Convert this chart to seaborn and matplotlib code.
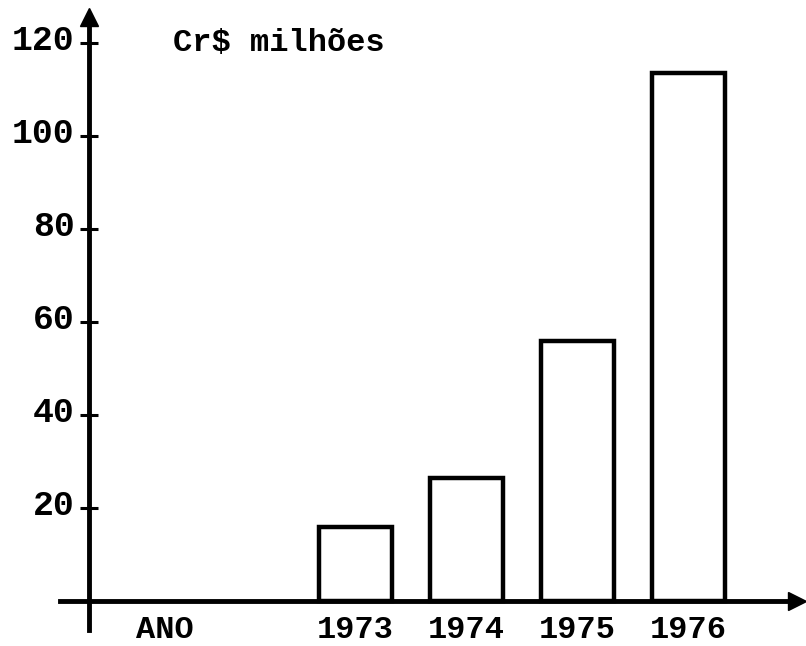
import matplotlib
matplotlib.use("Agg")
import matplotlib.pyplot as plt
import matplotlib.transforms as mtransforms
import seaborn as sns

# Data
years = ["1973", "1974", "1975", "1976"]
values = [16, 26.5, 56, 113.5]
yticks = [20, 40, 60, 80, 100, 120]
ytick_labels = ["20", "40", "60", "80", "100", "120"]
unit_label = "Cr$ milhões"
xaxis_label = "ANO"

sns.set_style("white")
plt.rcParams["font.family"] = ["Liberation Mono", "DejaVu Sans Mono"]
plt.rcParams["font.weight"] = "bold"
plt.rcParams["text.color"] = "black"
plt.rcParams["xtick.color"] = "black"
plt.rcParams["ytick.color"] = "black"
plt.rcParams["axes.edgecolor"] = "black"

fig = plt.figure(figsize=(8.06, 6.46), dpi=100)
ax = fig.add_axes([0, 0, 1, 1])

sns.barplot(x=years, y=values, color="white", edgecolor="black",
            linewidth=3.2, width=0.65, saturation=1, ax=ax)

ax.set_xlim(-3.203, 4.058)
ax.set_ylim(-9.68, 129.25)
ax.set_facecolor("white")

yaxis_x = -2.40
for s in ["top", "right"]:
    ax.spines[s].set_visible(False)
ax.spines["left"].set_position(("data", yaxis_x))
ax.spines["left"].set_bounds(-6.2, 124)
ax.spines["left"].set_linewidth(3.5)
ax.spines["left"].set_color("black")
ax.spines["bottom"].set_position(("data", 0))
ax.spines["bottom"].set_bounds(-2.66, 3.95)
ax.spines["bottom"].set_linewidth(3.5)
ax.spines["bottom"].set_color("black")

# arrowheads
ax.plot([yaxis_x], [125.5], marker="^", color="black", markersize=13, clip_on=False)
ax.plot([3.98], [0], marker=">", color="black", markersize=13, clip_on=False)

ax.set_yticks(yticks)
ax.set_yticklabels(ytick_labels, fontsize=25, fontweight="bold", color="black")
ax.tick_params(axis="y", direction="inout", length=13, width=2.2, pad=4, left=True,
               colors="black")
off = mtransforms.ScaledTranslation(0, 6 / 100, fig.dpi_scale_trans)
for lab in ax.get_yticklabels():
    lab.set_transform(lab.get_transform() + off)

ax.set_xticks([-1.72, 0, 1, 2, 3])
ax.set_xticklabels([xaxis_label] + years, fontsize=23, fontweight="bold", color="black")
ax.tick_params(axis="x", length=0, pad=10)

ax.set_xlabel("")
ax.set_ylabel("")

ax.text(0.215, 0.933, unit_label, transform=ax.transAxes, fontsize=23,
        fontweight="bold", ha="left", va="center", color="black")

fig.savefig("out.png", dpi=100, facecolor="white")
